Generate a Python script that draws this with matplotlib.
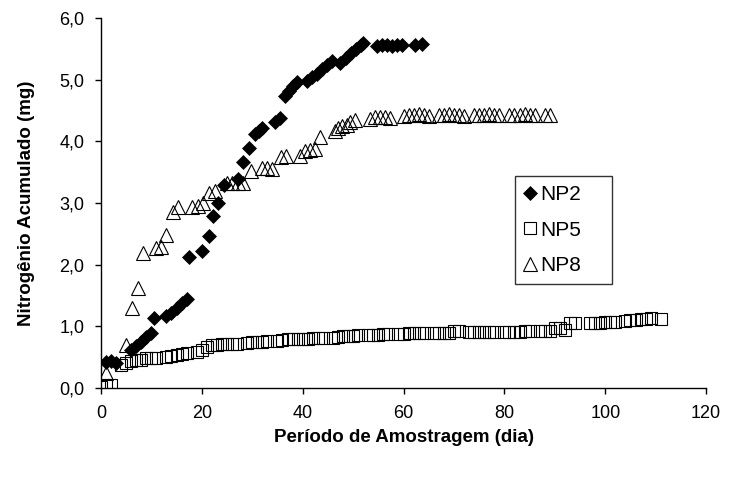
import matplotlib
matplotlib.use("Agg")
import matplotlib.pyplot as plt
from matplotlib.ticker import FuncFormatter

plt.rcParams['font.family'] = ['Liberation Sans', 'DejaVu Sans']

# NP2 - accumulated N (mg) per sampling day
np2_dia = [1, 2, 3, 6, 7, 8, 9, 10, 10.5, 13, 14, 15, 16, 17, 17.5, 20, 21.4, 22.3, 23.2,
           24.5, 27.2, 28.2, 29.4, 30.6, 31.3, 31.9, 34.5, 35.5, 36.5, 37.3, 38, 38.8,
           40.8, 41.8, 42.8, 43.8, 44.8, 45.8, 47.4, 48.5, 49.5, 50.5, 51.5, 52,
           54.7, 55.7, 56.7, 57.7, 58.7, 59.7, 62.3, 63.6]
np2_mg = [0.42, 0.43, 0.41, 0.62, 0.68, 0.75, 0.82, 0.90, 1.14, 1.16, 1.22, 1.30, 1.38, 1.45, 2.13,
          2.23, 2.47, 2.79, 3.00, 3.30, 3.39, 3.67, 3.89, 4.12, 4.17, 4.22, 4.31, 4.38,
          4.73, 4.82, 4.90, 4.97, 4.98, 5.04, 5.10, 5.17, 5.24, 5.30, 5.27, 5.35, 5.43,
          5.50, 5.56, 5.59, 5.55, 5.56, 5.56, 5.55, 5.57, 5.57, 5.56, 5.58]

# NP5
np5_dia = [0, 1, 2, 4, 5, 6, 7, 8, 9, 10, 11, 13, 14, 15, 16, 17, 19, 20, 21, 22,
           23, 24, 25, 26, 27, 29, 30, 31, 32, 33, 35, 36, 37, 38, 39,
           40, 41, 42, 43, 44, 46, 47, 48, 49, 50, 51, 53, 54, 55, 56, 57, 59, 60,
           61, 62, 63, 64, 66, 67, 68, 69, 70, 71, 73, 74, 75, 76, 77, 78,
           80, 81, 82, 83, 84, 85, 87, 88, 89, 90, 91, 92, 93, 94,
           97, 98, 99, 100, 101, 102, 104, 105, 106, 107, 108, 109, 111]
np5_mg = [0.02, 0.05, 0.05, 0.37, 0.40, 0.44, 0.45, 0.46, 0.48, 0.48, 0.49, 0.51, 0.52, 0.54,
          0.55, 0.56, 0.59, 0.62, 0.67, 0.70, 0.70, 0.71, 0.71, 0.72, 0.72, 0.73, 0.74,
          0.75, 0.75, 0.76, 0.77, 0.78, 0.79, 0.79, 0.80, 0.80, 0.80, 0.81, 0.81, 0.81,
          0.81, 0.82, 0.84, 0.85, 0.85, 0.86, 0.86, 0.86, 0.86, 0.87, 0.87, 0.87, 0.88,
          0.89, 0.89, 0.89, 0.89, 0.89, 0.90, 0.90, 0.90, 0.92, 0.93, 0.91, 0.91, 0.91,
          0.91, 0.91, 0.91, 0.91, 0.91, 0.91, 0.91, 0.92, 0.92, 0.92, 0.92, 0.92,
          0.97, 0.98, 0.94, 1.05, 1.05, 1.05, 1.06, 1.06, 1.07, 1.07, 1.07, 1.08,
          1.10, 1.11, 1.12, 1.12, 1.13, 1.12]

# NP8
np8_dia = [1, 5, 6.2, 7.3, 8.4, 11, 12, 13, 14.3, 15.3, 18, 19.3, 20.3, 21.5, 22.6,
           25, 26, 27.2, 28.2, 29.7, 32, 33, 34, 35.7, 36.7, 39.5, 40.5, 41.5, 42.5, 43.5,
           46.4, 47.1, 47.8, 48.7, 49.4, 50.4, 53.4, 54.4, 55.4, 56.3, 57.3,
           60, 61, 62, 63, 64, 65, 67, 68, 69, 70, 71, 72, 74, 75, 76, 77, 78, 79,
           81, 82, 83, 84, 85, 86, 88, 89]
np8_mg = [0.25, 0.70, 1.29, 1.62, 2.19, 2.27, 2.29, 2.48, 2.86, 2.94, 2.94, 2.95, 3.00, 3.16, 3.20,
          3.32, 3.32, 3.32, 3.33, 3.52, 3.57, 3.57, 3.55, 3.74, 3.76, 3.76, 3.84, 3.86, 3.88, 4.08,
          4.17, 4.22, 4.25, 4.27, 4.32, 4.35, 4.36, 4.40, 4.40, 4.39, 4.38,
          4.42, 4.43, 4.43, 4.44, 4.43, 4.42, 4.43, 4.43, 4.44, 4.43, 4.43, 4.42,
          4.43, 4.43, 4.43, 4.44, 4.43, 4.43, 4.43, 4.43, 4.43, 4.44, 4.43, 4.43, 4.43, 4.43]

fig = plt.figure(figsize=(7.31, 4.79), dpi=100)
ax = fig.add_axes([0.138, 0.19, 0.828, 0.772])

# draw order: triangles, squares, diamonds on top
h8, = ax.plot(np8_dia, np8_mg, linestyle='none', marker='^', markersize=10,
              markerfacecolor='none', markeredgecolor='black', markeredgewidth=0.8, label='NP8')
h5, = ax.plot(np5_dia, np5_mg, linestyle='none', marker='s', markersize=8.6,
              markerfacecolor='none', markeredgecolor='black', markeredgewidth=0.8, label='NP5')
h2, = ax.plot(np2_dia, np2_mg, linestyle='none', marker='D', markersize=6.8,
              markerfacecolor='black', markeredgecolor='black', markeredgewidth=0.5, label='NP2')

ax.set_xlim(0, 120)
ax.set_ylim(0, 6)
ax.set_xticks(range(0, 121, 20))
ax.set_yticks([0, 1, 2, 3, 4, 5, 6])
ax.yaxis.set_major_formatter(FuncFormatter(lambda v, p: f"{v:.1f}".replace('.', ',')))

for s in ['top', 'right']:
    ax.spines[s].set_visible(False)
for s in ['left', 'bottom']:
    ax.spines[s].set_linewidth(1.0)

ax.tick_params(direction='out', length=4, width=1.0, labelsize=13, colors='black')
ax.tick_params(axis='y', pad=8)
ax.tick_params(axis='x', pad=8)

ax.set_xlabel('Período de Amostragem (dia)', fontsize=13.5, fontweight='bold', labelpad=5)
ax.set_ylabel('Nitrogênio Acumulado (mg)', fontsize=13.5, fontweight='bold', labelpad=17)

leg = ax.legend(handles=[h2, h5, h8], loc='upper left',
                bbox_to_anchor=(0.684, 0.3, 0.160, 0.273), mode='expand',
                fontsize=15, frameon=True, fancybox=False, edgecolor='black',
                handlelength=0.6, handletextpad=0.2, labelspacing=0.8,
                borderpad=0.42, borderaxespad=0)
leg.get_frame().set_linewidth(1.0)

fig.savefig('out.png', dpi=100)
